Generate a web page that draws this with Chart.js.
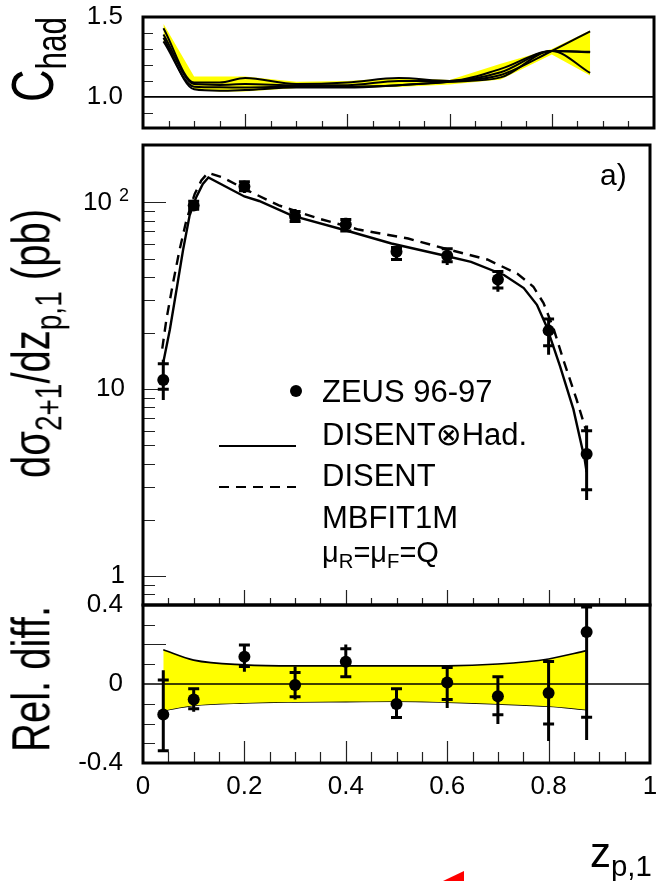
<!DOCTYPE html>
<html>
<head>
<meta charset="utf-8">
<script src="https://cdn.jsdelivr.net/npm/chart.js@4.4.1/dist/chart.umd.min.js"></script>
<style>
  body { margin: 0; background: #fff; width: 656px; height: 881px; overflow: hidden; position: relative;
         font-family: "Liberation Sans", "DejaVu Sans", Arial, sans-serif; }
  canvas { position: absolute; left: 0; }
  .t { position: absolute; color: #000; white-space: nowrap; line-height: 1; }
  /* axis titles: rotated and a bit taller, like the original */
  .rot { transform-origin: 0 0; transform: rotate(-90deg) scaleY(1.33); }
  sub { font-size: 70%; vertical-align: baseline; position: relative; top: 0.32em; }
  .tri { position: absolute; left: 443px; top: 871px; width: 21px; height: 10px; background: #f00;
         clip-path: polygon(100% 0, 100% 100%, 0 100%); }
</style>
</head>
<body>
<canvas id="cTop" style="top:0px" width="656" height="140"></canvas>
<canvas id="cMid" style="top:130px" width="656" height="485"></canvas>
<canvas id="cBot" style="top:585px" width="656" height="296"></canvas>

<div class="t rot" style="left:2px; top:102px; font-size:45px">C<sub>had</sub></div>
<div class="t rot" style="left:4px; top:478px; font-size:40px">dσ<sub>2+1</sub>/dz<sub>p,1</sub> (pb)</div>
<div class="t rot" style="left:4px; top:752px; font-size:40px">Rel. diff.</div>
<div class="t" style="left:590px; top:832px; font-size:42px">z<sub>p,1</sub></div>
<div class="t" style="left:119px; top:186px; font-size:18px">2</div>

<div class="t" style="left:600px; top:160px; font-size:30px">a)</div>
<div class="t" style="left:322px; top:376px; font-size:31px">ZEUS 96-97</div>
<div class="t" style="left:322px; top:419px; font-size:31px">DISENT⊗Had.</div>
<div class="t" style="left:322px; top:460px; font-size:31px">DISENT</div>
<div class="t" style="left:322px; top:502px; font-size:31px">MBFIT1M</div>
<div class="t" style="left:322px; top:538px; font-size:29px">μ<sub>R</sub>=μ<sub>F</sub>=Q</div>
<div class="tri"></div>

<script>
// ---- data ----
// hadronisation correction (top pad)
const zHad = [0.04, 0.1, 0.15, 0.2, 0.3, 0.4, 0.5, 0.6, 0.7, 0.8, 0.875];
const hadBandHi = [1.458, 1.128, 1.128, 1.128, 1.094, 1.10, 1.12, 1.105, 1.208, 1.30, 1.415];
const hadBandLo = [1.340, 1.045, 1.034, 1.034, 1.056, 1.058, 1.062, 1.078, 1.108, 1.265, 1.133];
const hadLine1 = [1.43, 1.09, 1.09, 1.118, 1.08, 1.09, 1.118, 1.10, 1.175, 1.287, 1.283];
const hadLine2 = [1.39, 1.08, 1.075, 1.08, 1.073, 1.073, 1.10, 1.10, 1.154, 1.287, 1.15];
const hadLine3 = [1.347, 1.064, 1.06, 1.058, 1.064, 1.064, 1.073, 1.094, 1.137, 1.287, 1.41];
const hadLine4 = [1.37, 1.047, 1.038, 1.043, 1.058, 1.058, 1.073, 1.094, 1.122, 1.287, 1.28];

// ZEUS 96-97 cross section (middle pad)
const zPts = [0.04, 0.1, 0.2, 0.3, 0.4, 0.5, 0.6, 0.7, 0.8, 0.875];
const xsecVal    = [11.2, 96.4, 121.7, 84.2, 76.1, 54.5, 51.8, 38.7, 20.6, 4.5];
const xsecStatHi = [13.7, 101.6, 129, 89.5, 81, 57.3, 56.5, 42.7, 23.8, 6.0];
const xsecStatLo = [10.0, 91.9, 115.6, 79.1, 70.3, 49.5, 48.2, 34.8, 17.1, 2.9];
const xsecTotHi  = [14.4, 101.6, 129, 92.1, 82.7, 57.3, 56.5, 42.7, 23.8, 6.4];
const xsecTotLo  = [8.77, 90.3, 112.5, 78.1, 70.3, 49.5, 46.3, 33.3, 15.3, 2.55];

// DISENT x Had. (solid) and DISENT (dashed)
const zHadCurve = [0.04, 0.053, 0.066, 0.079, 0.092, 0.105, 0.118, 0.129, 0.2, 0.229, 0.294, 0.399, 0.49, 0.594, 0.647, 0.712, 0.751, 0.777, 0.796, 0.8225, 0.849, 0.871, 0.875];
const xsecHad = [13.9, 20.9, 34, 55.6, 85.3, 106.7, 125.6, 136, 107.6, 101.8, 85, 71, 60.3, 52, 48.1, 40.9, 34.8, 28.3, 21.7, 13.3, 7.8, 4.24, 3.6];
const zPartonCurve = [0.038, 0.046, 0.059, 0.072, 0.0855, 0.102, 0.115, 0.128, 0.157, 0.209, 0.268, 0.346, 0.425, 0.523, 0.601, 0.679, 0.738, 0.770, 0.790, 0.8096, 0.829, 0.855, 0.875];
const xsecParton = [16.5, 23.5, 36.8, 55.6, 80, 111, 131, 144, 136, 115, 96.4, 82, 71.6, 64.1, 56.1, 49.5, 41.6, 35.4, 28.9, 21.2, 14.4, 8.85, 5.88];

// relative difference (bottom pad)
const relVal    = [-0.155, -0.078, 0.138, -0.005, 0.113, -0.101, 0.007, -0.062, -0.045, 0.263];
const relStatHi = [0.02, -0.024, 0.198, 0.058, 0.178, -0.024, 0.084, 0.037, 0.114, 0.39];
const relStatLo = [-0.338, -0.125, 0.089, -0.065, 0.037, -0.169, -0.078, -0.156, -0.203, -0.168];
const relTotHi  = [0.07, -0.024, 0.198, 0.089, 0.2, -0.024, 0.084, 0.037, 0.114, 0.395];
const relTotLo  = [-0.344, -0.141, 0.062, -0.078, 0.037, -0.169, -0.121, -0.202, -0.289, -0.284];
const relBandHi = [0.173, 0.121, 0.097, 0.092, 0.092, 0.092, 0.092, 0.101, 0.127, 0.169];
const relBandLo = [-0.135, -0.109, -0.096, -0.091, -0.089, -0.087, -0.092, -0.101, -0.113, -0.130];

// tick labels (the exponent of 10^2 is the small "2" div above)
const xTickLabels = ['0', '0.2', '0.4', '0.6', '0.8', '1'];
const hadTickVals = [1.0, 1.5];
const xsecTickVals = [1, 10, 100];
const xsecTickLabels = ['1', '10', '10\u2002'];
const relTickVals = [-0.4, 0, 0.4];
const relTickLabels = ['-0.4', '0', '0.4'];

Chart.defaults.font.family = "'Liberation Sans', Arial, sans-serif";
Chart.defaults.font.size = 26;
Chart.defaults.color = '#000';

const pts = (xs, ys) => xs.map((x, i) => ({ x: x, y: ys[i] }));

// x ticks every 0.05, long ones every 0.2
function xTicks(longLen, shortLen) {
  const out = [];
  for (let i = 1; i < 20; i++) out.push({ v: i * 0.05, len: i % 4 === 0 ? longLen : shortLen });
  return out;
}
function logTicks() {
  const out = [{ v: 0.8, len: 12 }, { v: 0.9, len: 12 }];
  [1, 10, 100].forEach(d => {
    out.push({ v: d, len: 23 });
    if (d < 100) for (let k = 2; k < 10; k++) out.push({ v: k * d, len: 12 });
  });
  return out;
}

// inner ticks, reference line, error bars and frame, ROOT style
const padDeco = {
  id: 'padDeco',
  afterDatasetsDraw(chart, args, o) {
    const ctx = chart.ctx, a = chart.chartArea;
    const xs = chart.scales.x, ys = chart.scales.y;
    ctx.save();
    ctx.strokeStyle = '#222';
    ctx.lineWidth = 1.2;
    ctx.beginPath();
    (o.xTicks || []).forEach(t => {
      const px = Math.round(xs.getPixelForValue(t.v)) + 0.5;
      ctx.moveTo(px, a.bottom); ctx.lineTo(px, a.bottom - t.len);
    });
    (o.yTicks || []).forEach(t => {
      const py = Math.round(ys.getPixelForValue(t.v)) + 0.5;
      ctx.moveTo(a.left, py); ctx.lineTo(a.left + t.len, py);
    });
    ctx.stroke();
    if (o.refLine !== undefined) {
      const py = ys.getPixelForValue(o.refLine);
      ctx.strokeStyle = '#000';
      ctx.lineWidth = 1.6;
      ctx.beginPath(); ctx.moveTo(a.left, py); ctx.lineTo(a.right, py); ctx.stroke();
    }
    if (o.err) {
      const e = o.err;
      ctx.save();
      ctx.beginPath(); ctx.rect(a.left, a.top, a.right - a.left, a.bottom - a.top); ctx.clip();
      ctx.strokeStyle = '#000';
      ctx.lineWidth = 3;
      e.x.forEach((x, i) => {
        const px = xs.getPixelForValue(x);
        ctx.beginPath();
        ctx.moveTo(px, ys.getPixelForValue(e.totLo[i]));
        ctx.lineTo(px, ys.getPixelForValue(e.totHi[i]));
        [e.statLo[i], e.statHi[i]].forEach(v => {
          const py = ys.getPixelForValue(v);
          ctx.moveTo(px - 5.5, py); ctx.lineTo(px + 5.5, py);
        });
        ctx.stroke();
      });
      ctx.restore();
    }
    ctx.strokeStyle = '#000';
    ctx.lineWidth = 3;
    ctx.strokeRect(a.left, a.top, a.right - a.left, a.bottom - a.top);
    ctx.restore();
  },
  afterDraw(chart, args, o) {
    if (!o.legend) return;
    const ctx = chart.ctx;
    const off = chart.canvas.offsetTop;
    ctx.save();
    ctx.fillStyle = '#000';
    ctx.beginPath(); ctx.arc(296, 391 - off, 6, 0, Math.PI * 2); ctx.fill();
    ctx.strokeStyle = '#000';
    ctx.lineWidth = 2.2;
    ctx.beginPath(); ctx.moveTo(219, 446 - off); ctx.lineTo(296, 446 - off); ctx.stroke();
    ctx.setLineDash([10, 7]);
    ctx.beginPath(); ctx.moveTo(219, 487 - off); ctx.lineTo(296, 487 - off); ctx.stroke();
    ctx.restore();
  }
};

function yAxis(extra) {
  return Object.assign({
    grid: { display: false, drawTicks: false },
    border: { display: false },
    afterFit: s => { s.width = 143; s.paddingTop = 0; s.paddingBottom = 0; }
  }, extra);
}
const hiddenX = { type: 'linear', min: 0, max: 1, display: false };
const base = {
  responsive: false,
  animation: false,
  events: [],
  plugins: { legend: { display: false }, tooltip: { enabled: false } }
};

// ---- top pad: C_had ----
const hadLines = [hadLine1, hadLine2, hadLine3, hadLine4].map(l => ({
  data: pts(zHad, l), showLine: true, borderColor: '#000', borderWidth: 2,
  pointRadius: 0, cubicInterpolationMode: 'monotone', order: 1
}));
new Chart(document.getElementById('cTop'), {
  type: 'scatter',
  data: {
    datasets: [
      { data: pts(zHad, hadBandHi), showLine: true, borderWidth: 0, pointRadius: 0,
        backgroundColor: '#ffff00', fill: '+1', order: 5 },
      { data: pts(zHad, hadBandLo), showLine: true, borderWidth: 0, pointRadius: 0, order: 6 }
    ].concat(hadLines)
  },
  options: Object.assign({}, base, {
    layout: { padding: { left: 0, right: 2, top: 17, bottom: 12 } },
    scales: {
      x: hiddenX,
      y: yAxis({
        type: 'linear', min: 0.805, max: 1.5,
        afterBuildTicks: s => { s.ticks = hadTickVals.map(v => ({ value: v })); },
        ticks: { padding: 20, callback: v => v.toFixed(1) }
      })
    },
    plugins: Object.assign({}, base.plugins, {
      padDeco: {
        xTicks: xTicks(14, 7),
        yTicks: [0.9, 1.1, 1.2, 1.3, 1.4].map(v => ({ v: v, len: 10 })),
        refLine: 1.0
      }
    })
  }),
  plugins: [padDeco]
});

// ---- middle pad: cross section ----
new Chart(document.getElementById('cMid'), {
  type: 'scatter',
  data: {
    datasets: [
      { data: pts(zPts, xsecVal), pointRadius: 6, pointBackgroundColor: '#000', pointBorderWidth: 0, order: 1 },
      { data: pts(zHadCurve, xsecHad), showLine: true, borderColor: '#000', borderWidth: 2.4,
        pointRadius: 0, tension: 0, order: 2 },
      { data: pts(zPartonCurve, xsecParton), showLine: true, borderColor: '#000', borderWidth: 2.4,
        borderDash: [10, 7], pointRadius: 0, tension: 0, order: 3 }
    ]
  },
  options: Object.assign({}, base, {
    layout: { padding: { left: 0, right: 2, top: 15, bottom: 10 } },
    scales: {
      x: hiddenX,
      y: yAxis({
        type: 'logarithmic', min: 0.718, max: 203,
        afterBuildTicks: s => { s.ticks = xsecTickVals.map(v => ({ value: v })); },
        ticks: { padding: 18, callback: v => xsecTickLabels[xsecTickVals.indexOf(v)] }
      })
    },
    plugins: Object.assign({}, base.plugins, {
      padDeco: {
        xTicks: xTicks(15, 7),
        yTicks: logTicks(),
        err: { x: zPts, statHi: xsecStatHi, statLo: xsecStatLo, totHi: xsecTotHi, totLo: xsecTotLo },
        legend: true
      }
    })
  }),
  plugins: [padDeco]
});

// ---- bottom pad: relative difference ----
new Chart(document.getElementById('cBot'), {
  type: 'scatter',
  data: {
    datasets: [
      { data: pts(zPts, relVal), pointRadius: 6, pointBackgroundColor: '#000', pointBorderWidth: 0, order: 1 },
      { data: pts(zPts, relBandHi), showLine: true, borderColor: '#000', borderWidth: 1.6, pointRadius: 0,
        backgroundColor: '#ffff00', fill: '+1', cubicInterpolationMode: 'monotone', order: 5 },
      { data: pts(zPts, relBandLo), showLine: true, borderColor: '#000', borderWidth: 1.6, pointRadius: 0,
        cubicInterpolationMode: 'monotone', order: 6 }
    ]
  },
  options: Object.assign({}, base, {
    layout: { padding: { left: 0, right: 2, top: 20, bottom: 78 } },
    scales: {
      x: {
        type: 'linear', min: 0, max: 1,
        grid: { display: false, drawTicks: false },
        border: { display: false },
        afterBuildTicks: s => { s.ticks = xTickLabels.map(l => ({ value: parseFloat(l) })); },
        afterFit: s => { s.height = 40; s.paddingLeft = 0; s.paddingRight = 0; },
        ticks: { padding: 8, maxRotation: 0, autoSkip: false,
                 callback: (v, i) => xTickLabels[i] }
      },
      y: yAxis({
        type: 'linear', min: -0.4, max: 0.4,
        afterBuildTicks: s => { s.ticks = relTickVals.map(v => ({ value: v })); },
        ticks: { padding: 20, callback: (v, i) => relTickLabels[i] }
      })
    },
    plugins: Object.assign({}, base.plugins, {
      padDeco: {
        xTicks: xTicks(22, 11),
        yTicks: [-0.3, -0.2, -0.1, 0.1, 0.2, 0.3].map(v => ({ v: v, len: v === 0.2 ? 23 : 12 })),
        refLine: 0,
        err: { x: zPts, statHi: relStatHi, statLo: relStatLo, totHi: relTotHi, totLo: relTotLo }
      }
    })
  }),
  plugins: [padDeco]
});
</script>
</body>
</html>
